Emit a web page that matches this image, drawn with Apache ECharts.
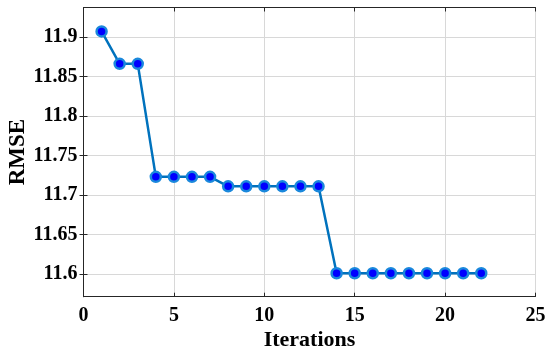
<!DOCTYPE html>
<html>
<head>
<meta charset="utf-8">
<script src="https://cdn.jsdelivr.net/npm/echarts@6/dist/echarts.min.js"></script>
<style>html,body{margin:0;padding:0;background:#fff}#c{width:550px;height:355px}</style>
</head>
<body>
<div id="c"></div>
<script>
var iterations = [1,2,3,4,5,6,7,8,9,10,11,12,13,14,15,16,17,18,19,20,21,22];
var rmse = [11.907,11.866,11.866,11.723,11.723,11.723,11.723,11.711,11.711,11.711,11.711,11.711,11.711,11.601,11.601,11.601,11.601,11.601,11.601,11.601,11.601,11.601];
var yTicks = [11.6,11.65,11.7,11.75,11.8,11.85,11.9];
var xTicks = [0,5,10,15,20,25];

var font = '"Liberation Serif", "Times New Roman", serif';
var axisColor = '#262626';
var chart = echarts.init(document.getElementById('c'), null, {renderer:'canvas'});
var yMin = 11.5713, yMax = 11.9373;
chart.setOption({
  animation: false,
  grid: {left: 83.5, top: 7.5, right: 14.5, bottom: 58.3, containLabel: false, outerBoundsMode: 'none'},
  xAxis: [{
    type: 'value', min: 0, max: 25, interval: 5,
    name: 'Iterations', nameLocation: 'middle', nameGap: 33, nameMoveOverlap: false,
    nameTextStyle: {fontFamily: font, fontWeight: 'bold', fontSize: 22, color: '#000'},
    axisLine: {show: true, lineStyle: {color: axisColor, width: 1}},
    axisTick: {show: true, inside: true, length: 4, lineStyle: {color: axisColor}},
    axisLabel: {fontFamily: font, fontWeight: 'bold', fontSize: 20, color: '#000', margin: 9},
    splitLine: {show: true, lineStyle: {color: '#d8d8d8', width: 1}}
  }, {
    type: 'value', position: 'top', min: 0, max: 25, interval: 5,
    axisLine: {show: true, lineStyle: {color: axisColor, width: 1}},
    axisTick: {show: true, inside: true, length: 4, lineStyle: {color: axisColor}},
    axisLabel: {show: false}, splitLine: {show: false}
  }],
  yAxis: [{
    type: 'value', min: yMin, max: yMax,
    name: 'RMSE', nameLocation: 'middle', nameGap: 54, nameMoveOverlap: false,
    nameTextStyle: {fontFamily: font, fontWeight: 'bold', fontSize: 23, color: '#000'},
    axisLine: {show: true, lineStyle: {color: axisColor, width: 1}},
    axisTick: {show: true, inside: true, length: 4, customValues: yTicks, lineStyle: {color: axisColor}},
    axisLabel: {fontFamily: font, fontWeight: 'bold', fontSize: 20, color: '#000', margin: 6, customValues: yTicks},
    splitLine: {show: true, lineStyle: {color: '#d8d8d8', width: 1}}
  }, {
    type: 'value', position: 'right', min: yMin, max: yMax,
    axisLine: {show: true, lineStyle: {color: axisColor, width: 1}},
    axisTick: {show: true, inside: true, length: 4, customValues: yTicks, lineStyle: {color: axisColor}},
    axisLabel: {show: false, customValues: yTicks}, splitLine: {show: false}
  }],
  series: [{
    type: 'line',
    xAxisIndex: 0, yAxisIndex: 0,
    data: iterations.map(function(x, i){ return [x, rmse[i]]; }),
    symbol: 'circle', symbolSize: 10,
    itemStyle: {color: '#0000ff', borderColor: '#1a88dc', borderWidth: 2.5},
    lineStyle: {color: '#0072BD', width: 2.5}
  }]
});
</script>
</body>
</html>
